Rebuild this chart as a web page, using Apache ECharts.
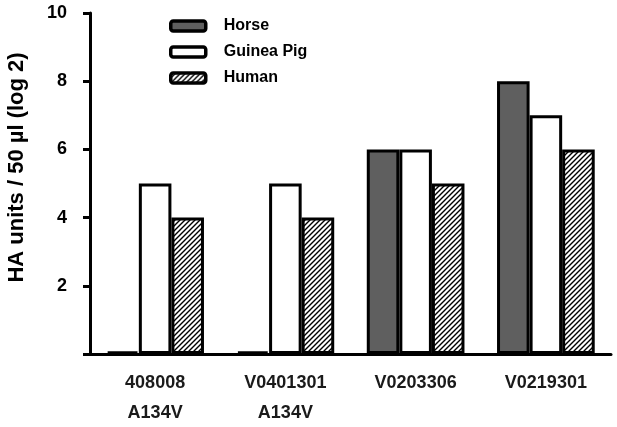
<!DOCTYPE html>
<html><head><meta charset="utf-8">
<script src="https://cdn.jsdelivr.net/npm/echarts@6/dist/echarts.min.js"></script>
<style>html,body{margin:0;padding:0;background:#fff}#c{width:617px;height:427px}</style>
</head><body><div id="c"></div>
<script>
const categories = ['408008\nA134V', 'V0401301\nA134V', 'V0203306', 'V0219301'];
const horse = [0.08, 0.08, 6, 8];
const guineaPig = [5, 5, 6, 7];
const human = [4, 4, 5, 6];
const yTicks = [0, 2, 4, 6, 8, 10];

function hatch() {
  const s = 5;
  const c = document.createElement('canvas');
  c.width = s; c.height = s;
  const g = c.getContext('2d');
  g.fillStyle = '#fff'; g.fillRect(0, 0, s, s);
  g.strokeStyle = '#000'; g.lineWidth = 1.4;
  g.beginPath();
  g.moveTo(-1, s + 1); g.lineTo(s + 1, -1);
  g.moveTo(-1, 1); g.lineTo(1, -1);
  g.moveTo(s - 1, s + 1); g.lineTo(s + 1, s - 1);
  g.stroke();
  return c;
}

const font = '"Liberation Sans", Arial, sans-serif';
const chart = echarts.init(document.getElementById('c'));
const border = { borderColor: '#000', borderWidth: 3 };
chart.setOption({
  animation: false,
  textStyle: { fontFamily: font },
  grid: { left: 90, right: 6, top: 13, bottom: 73, containLabel: false, outerBoundsMode: 'none' },
  legend: {
    orient: 'vertical', left: 164, top: 13,
    itemWidth: 35, itemHeight: 10, itemGap: 10,
    itemStyle: { borderColor: '#000', borderWidth: 3.5 },
    textStyle: { fontFamily: font, fontWeight: 'bold', fontSize: 16, color: '#000', padding: [0, 0, 0, 13] },
    data: ['Horse', 'Guinea Pig', 'Human']
  },
  xAxis: {
    type: 'category', data: categories,
    axisLine: { lineStyle: { color: '#000', width: 3 } },
    axisTick: { alignWithLabel: true, length: 7, lineStyle: { width: 3, color: '#000' } },
    axisLabel: { fontFamily: font, fontWeight: 'bold', fontSize: 18, color: '#1a1a1a', lineHeight: 30, margin: 14 }
  },
  yAxis: {
    type: 'value', min: 0, max: 10, interval: 2,
    name: 'HA units / 50 µl (log 2)', nameLocation: 'middle', nameGap: 62,
    nameTextStyle: { fontFamily: font, fontWeight: 'bold', fontSize: 22, color: '#000', padding: [0, 0, 0, 32] },
    splitLine: { show: false },
    axisLine: { show: true, lineStyle: { color: '#000', width: 3 } },
    axisTick: { show: true, length: 7, lineStyle: { width: 3, color: '#000' } },
    axisLabel: { fontFamily: font, fontWeight: 'bold', fontSize: 18, color: '#000', margin: 23,
      formatter: v => (yTicks.indexOf(v) > 0 ? String(v) : '') }
  },
  series: [
    { name: 'Horse', type: 'bar', data: horse, barGap: '0%', barCategoryGap: '25%',
      itemStyle: Object.assign({ color: '#5f5f5f' }, border) },
    { name: 'Guinea Pig', type: 'bar', data: guineaPig, barGap: '0%', barCategoryGap: '25%',
      itemStyle: Object.assign({ color: '#ffffff' }, border) },
    { name: 'Human', type: 'bar', data: human, barGap: '0%', barCategoryGap: '25%',
      itemStyle: Object.assign({ color: { image: hatch(), repeat: 'repeat' } }, border) }
  ]
});
</script></body></html>
